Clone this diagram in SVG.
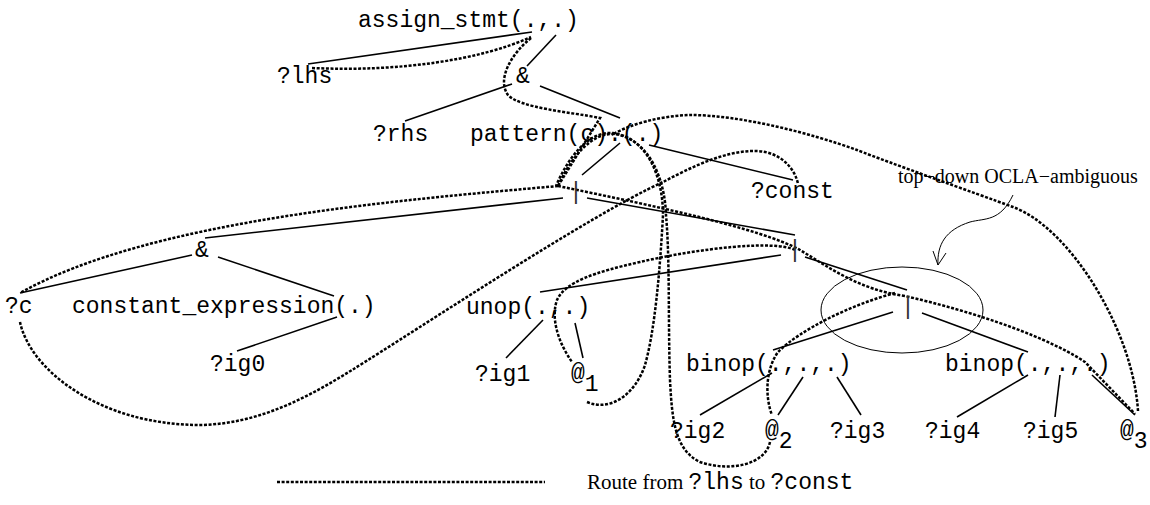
<svg xmlns="http://www.w3.org/2000/svg" width="1150" height="505" viewBox="0 0 1150 505">
<style>
.t{font-family:"Liberation Mono","DejaVu Sans Mono",monospace;font-size:23px;fill:#000}
.bar{font-family:"Liberation Mono","DejaVu Sans Mono",monospace;font-size:23px;fill:#333;text-anchor:middle}
.s{font-family:"Liberation Serif","Times New Roman",serif;font-size:21px;fill:#000}
.e{stroke:#000;stroke-width:1.6;fill:none}
.r{stroke:#000;stroke-width:2.5;fill:none;stroke-dasharray:3 1.6}
.thin{stroke:#000;stroke-width:1;fill:none}
</style>
<rect width="1150" height="505" fill="#fff"/>
<g id="connectors">
  <g id="tree-edges">
    <line class="e" x1="532" y1="32" x2="308" y2="64"/>
    <line class="e" x1="556" y1="35" x2="527" y2="66"/>
    <line class="e" x1="512" y1="84" x2="405" y2="121"/>
    <line class="e" x1="540" y1="86" x2="620" y2="118"/>
    <line class="e" x1="620" y1="143" x2="582" y2="175"/>
    <line class="e" x1="649" y1="145" x2="793" y2="180"/>
    <line class="e" x1="563" y1="198" x2="205" y2="238"/>
    <line class="e" x1="587" y1="198" x2="795" y2="235"/>
    <line class="e" x1="192" y1="255" x2="20" y2="293"/>
    <line class="e" x1="218" y1="257" x2="334" y2="296"/>
    <line class="e" x1="337" y1="317" x2="237" y2="351"/>
    <line class="e" x1="781" y1="255" x2="540" y2="292"/>
    <line class="e" x1="805" y1="257" x2="907" y2="290"/>
    <line class="e" x1="543" y1="320" x2="506" y2="358"/>
    <line class="e" x1="575" y1="323" x2="583" y2="358"/>
    <line class="e" x1="893" y1="312" x2="773" y2="350"/>
    <line class="e" x1="922" y1="313" x2="1028" y2="352"/>
    <line class="e" x1="772" y1="373" x2="700" y2="415"/>
    <line class="e" x1="803" y1="377" x2="778" y2="415"/>
    <line class="e" x1="837" y1="377" x2="861" y2="415"/>
    <line class="e" x1="1028" y1="375" x2="957" y2="417"/>
    <line class="e" x1="1060" y1="375" x2="1055" y2="417"/>
    <line class="e" x1="1092" y1="375" x2="1135" y2="415"/>
  </g>
  <g id="route">
    <path class="r" d="M312,68 C400,72 480,60 531,37"/>
    <path class="r" d="M531,38 C510,55 497,80 508,95 C520,108 570,112 600,118 L558,186"/>
    <path class="r" d="M558,186 C400,200 150,220 20,293"/>
    <path class="r" d="M20,322 C30,370 100,425 200,425 C260,424 310,396 352,370 C420,328 590,215 663,182 C690,168 725,150 757,151 C780,152 795,168 798,184"/>
    <path class="r" d="M558,186 C650,205 760,228 800,250 C830,268 860,290 905,296 C1000,318 1060,345 1085,362 L1135,414"/>
    <path class="r" d="M895,293 C850,305 800,330 778,352 C764,372 766,400 772,415"/>
    <path class="r" d="M770,442 C765,465 730,472 700,462 C675,450 672,420 670,380 C668,320 670,260 666,215 C665,180 650,140 615,134 C590,132 570,160 558,186"/>
    <path class="r" d="M587,402 C610,412 635,395 645,365 C655,330 660,270 663,215 C663,178 648,138 613,133 C588,131 568,158 556,186"/>
    <path class="r" d="M795,250 C775,240 700,248 640,262 C595,272 565,282 557,300 C550,320 560,345 572,362"/>
    <path class="r" d="M1138,411 C1133,330 1070,228 1013,207 C975,193 890,163 857,150 C810,133 740,115 690,115 C660,116 630,124 612,135"/>
  </g>
</g>
<g id="assign_stmt"><text class="t" x="358" y="27">assign_stmt(.,.)</text></g>
<g id="lhs"><text class="t" x="277" y="83">?lhs</text></g>
<g id="and1"><text class="t" x="516" y="83">&amp;</text></g>
<g id="rhs"><text class="t" x="373" y="141">?rhs</text></g>
<g id="pattern"><text class="t" x="470" y="141">pattern(c).(.)</text></g>
<g id="const"><text class="t" x="751" y="198">?const</text></g>
<g id="alt1"><text class="bar" x="576" y="199">|</text></g>
<g id="and2"><text class="t" x="195" y="257">&amp;</text></g>
<g id="c"><text class="t" x="5" y="313">?c</text></g>
<g id="constexpr"><text class="t" x="72" y="313">constant_expression(.)</text></g>
<g id="ig0"><text class="t" x="210" y="371">?ig0</text></g>
<g id="alt2"><text class="bar" x="795" y="257">|</text></g>
<g id="unop"><text class="t" x="466" y="314">unop(.,.)</text></g>
<g id="ig1"><text class="t" x="475" y="381">?ig1</text></g>
<g id="at1"><text class="t" x="571" y="380">@<tspan dy="11">1</tspan></text></g>
<g id="alt3"><text class="bar" x="908" y="314">|</text></g>
<g id="binop1"><text class="t" x="686" y="371">binop(.,.,.)</text></g>
<g id="binop2"><text class="t" x="945" y="371">binop(.,.,.)</text></g>
<g id="ig2"><text class="t" x="670" y="438">?ig2</text></g>
<g id="at2"><text class="t" x="765" y="437">@<tspan dy="11">2</tspan></text></g>
<g id="ig3"><text class="t" x="830" y="438">?ig3</text></g>
<g id="ig4"><text class="t" x="925" y="438">?ig4</text></g>
<g id="ig5"><text class="t" x="1023" y="438">?ig5</text></g>
<g id="at3"><text class="t" x="1120" y="437">@<tspan dy="11">3</tspan></text></g>
<g id="annotation">
  <ellipse class="thin" cx="902" cy="310" rx="81" ry="43"/>
  <text class="s" x="898" y="183" style="font-size:20px">top−down OCLA−ambiguous</text>
  <path class="thin" d="M1013,195 C1000,222 985,218 970,222 C945,230 937,245 938,265"/>
  <path class="thin" d="M933,251 L938,265 L946,253"/>
</g>
<g id="legend">
  <line class="r" x1="277" y1="482" x2="545" y2="482"/>
  <text class="s" x="587" y="489">Route from <tspan class="t">?lhs</tspan> to <tspan class="t">?const</tspan></text>
</g>
</svg>
